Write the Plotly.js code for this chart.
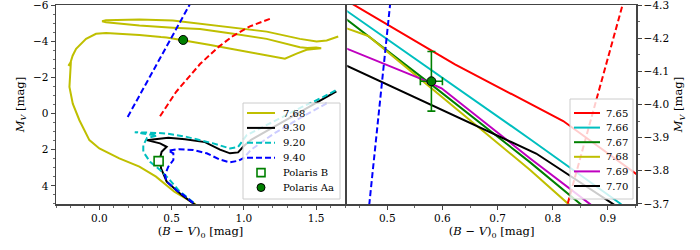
<!DOCTYPE html>
<html>
<head>
<meta charset="utf-8">
<script src="https://cdn.plot.ly/plotly-3.0.1.min.js"></script>
<style>html,body{margin:0;padding:0;background:#fff;}#chart{width:700px;height:250px;}</style>
</head>
<body>
<div id="chart"></div>
<script>
// ---------- data (B-V)_0 , M_V ----------
// isochrone log(age)=7.68
const iso768_bv = [0.696,0.662,0.519,0.392,0.277,0.138,0.000,-0.069,-0.138,-0.184,-0.207,-0.203,-0.196,-0.197,-0.214,-0.200,-0.185,-0.161,-0.092,-0.023,0.046,0.277,0.4264,0.4656,0.7585,0.828,0.925,1.158,1.284,1.365,1.434,1.500,1.535,1.500,1.440,1.388,1.158,0.927,0.696,0.508,0.277,0.046,0.019,0.046,0.277,0.508,0.738,0.927,1.158,1.388,1.503,1.573,1.653];
const iso768_mv = [5.33,5.00,4.32,3.49,2.94,2.48,1.93,1.47,0.37,-0.55,-1.47,-2.20,-2.66,-2.86,-2.64,-2.80,-3.20,-3.58,-4.13,-4.41,-4.46,-4.35,-4.23,-4.207,-3.803,-3.70,-3.58,-3.21,-3.03,-3.31,-3.53,-3.58,-3.61,-3.65,-3.63,-3.67,-4.13,-4.41,-4.68,-4.75,-4.87,-5.05,-5.10,-5.16,-5.20,-5.14,-4.92,-4.77,-4.53,-4.13,-3.98,-4.04,-4.26];
// isochrone 9.30
const iso930_bv = [0.696,0.663,0.570,0.466,0.427,0.420,0.431,0.466,0.420,0.328,0.385,0.477,0.593,0.731,0.835,0.904,0.960,1.000,1.050,1.200,1.400,1.550,1.640];
const iso930_mv = [5.27,5.05,4.50,3.77,3.03,2.48,2.12,1.84,1.65,1.47,1.42,1.34,1.42,1.58,2.00,2.20,2.15,1.80,1.45,0.77,-0.13,-0.81,-1.22];
// isochrone 9.20
const iso920_bv = [0.696,0.662,0.546,0.477,0.420,0.351,0.304,0.304,0.330,0.400,0.300,0.245,0.350,0.461,0.604,0.788,0.904,0.960,1.019,1.200,1.400,1.550,1.640];
const iso920_mv = [5.27,5.00,4.23,3.58,3.12,2.67,2.12,1.75,1.35,1.22,1.10,1.03,1.06,1.10,1.29,1.65,1.93,1.85,1.20,0.45,-0.35,-0.92,-1.30];
// isochrone 9.40
const iso940_bv = [0.696,0.662,0.581,0.546,0.466,0.454,0.477,0.512,0.512,0.477,0.550,0.650,0.743,0.835,0.904,0.961,1.000,1.050,1.200,1.400,1.590];
const iso940_mv = [5.27,5.02,4.50,4.32,3.77,3.40,2.94,2.57,2.20,2.05,1.97,2.02,2.20,2.55,2.70,2.61,2.45,2.00,1.15,0.20,-0.64];
// instability strip edges
const blueEdge_bv = [0.196,0.404,0.4675,0.505,0.630];
const blueEdge_mv = [0.19,-2.84,-3.70,-4.30,-6.10];
const redEdge_bv = [0.420,0.530,0.698,0.827,0.9265,1.042,1.190];
const redEdge_mv = [0.15,-1.19,-2.75,-3.70,-4.30,-4.82,-5.27];
// zoomed isochrones (right panel)
const iso765_bv = [0.42,0.6227,0.819,0.96];
const iso765_mv = [-4.32,-4.121,-3.95,-3.78];
const iso766_bv = [0.42,0.7585,0.9216,0.93];
const iso766_mv = [-4.29,-3.896,-3.702,-3.69];
const iso767_bv = [0.42,0.58,0.7585,0.850,0.86];
const iso767_mv = [-4.265,-4.06,-3.826,-3.70,-3.686];
const iso769_bv = [0.42,0.559,0.5985,0.7585,0.867,0.875];
const iso769_mv = [-4.173,-4.079,-4.049,-3.838,-3.70,-3.69];
const iso770_bv = [0.42,0.77,0.909,0.92];
const iso770_mv = [-4.122,-3.852,-3.70,-3.688];
// Polaris
const polarisAa_bv = [0.58], polarisAa_mv = [-4.07], polarisAa_ebv = [0.02], polarisAa_emv = [0.09];
const polarisB_bv = [0.41], polarisB_mv = [2.63];
// legend labels
const leftLabels = ['7.68','9.30','9.20','9.40','Polaris B','Polaris Aa'];
const rightLabels = ['7.65','7.66','7.67','7.68','7.69','7.70'];

// ---------- styling ----------
const C = {y:'rgb(191,191,0)', c:'rgb(0,191,191)', g:'rgb(0,128,0)', m:'rgb(191,0,191)', r:'rgb(255,0,0)', b:'rgb(0,0,255)', k:'rgb(0,0,0)'};
const FONT = 'DejaVu Serif';
const LW = 2;
const DASH = '6px,3px';

function line(x, y, color, name, opts) {
  opts = opts || {};
  return {
    type:'scatter', mode:'lines', x:x, y:y, name:name,
    line:{color:color, width:LW, dash: opts.dash || 'solid'},
    xaxis: opts.right ? 'x2' : 'x', yaxis: opts.right ? 'y2' : 'y',
    showlegend:false, hoverinfo:'skip'
  };
}
function aa(xa, ya, cap, th) {
  return {type:'scatter', mode:'markers', x:polarisAa_bv, y:polarisAa_mv, name:'Polaris Aa', xaxis:xa, yaxis:ya, showlegend:false,
   error_x:{type:'data', array:polarisAa_ebv, color:C.g, thickness:th, width:cap},
   error_y:{type:'data', array:polarisAa_emv, color:C.g, thickness:th, width:cap},
   marker:{symbol:'circle', size:9, color:C.g, line:{color:'#000', width:1}}, hoverinfo:'skip'};
}

const traces = [
  // left panel
  line(iso768_bv, iso768_mv, C.y, leftLabels[0]),
  line(iso930_bv, iso930_mv, C.k, leftLabels[1]),
  line(iso920_bv, iso920_mv, C.c, leftLabels[2], {dash:DASH}),
  line(iso940_bv, iso940_mv, C.b, leftLabels[3], {dash:DASH}),
  line(redEdge_bv, redEdge_mv, C.r, 'red edge', {dash:DASH}),
  line(blueEdge_bv, blueEdge_mv, C.b, 'blue edge', {dash:DASH}),
  {type:'scatter', mode:'markers', x:polarisB_bv, y:polarisB_mv, name:leftLabels[4], xaxis:'x', yaxis:'y', showlegend:false,
   marker:{symbol:'square', size:9, color:'white', line:{color:C.g, width:1.6}}, hoverinfo:'skip'},
  aa('x','y',2,1.5),
  // right panel
  line(iso765_bv, iso765_mv, C.r, rightLabels[0], {right:true}),
  line(iso766_bv, iso766_mv, C.c, rightLabels[1], {right:true}),
  line(iso767_bv, iso767_mv, C.g, rightLabels[2], {right:true}),
  line(iso768_bv, iso768_mv, C.y, rightLabels[3], {right:true}),
  line(iso769_bv, iso769_mv, C.m, rightLabels[4], {right:true}),
  line(iso770_bv, iso770_mv, C.k, rightLabels[5], {right:true}),
  line(blueEdge_bv, blueEdge_mv, C.b, 'blue edge', {right:true, dash:DASH}),
  line(redEdge_bv, redEdge_mv, C.r, 'red edge', {right:true, dash:DASH}),
  aa('x2','y2',4,1.6)
];

// ---------- custom legends (paper coords from pixel layout) ----------
const W = 700, TOP = 5, PH = 199;
const px = v => v / W;
const py = v => (TOP + PH - v) / PH;
const shapes = [], annotations = [];
function buildLegend(box, row0, step, sx0, sx1, tx, items) {
  shapes.push({type:'rect', xref:'paper', yref:'paper', x0:px(box[0]), x1:px(box[1]), y0:py(box[3]), y1:py(box[2]),
               fillcolor:'rgba(255,255,255,0.8)', line:{color:'#cccccc', width:1}, layer:'above'});
  items.forEach((it, i) => {
    const yc = row0 + i * step;
    if (it.kind === 'line') {
      shapes.push({type:'line', xref:'paper', yref:'paper', x0:px(sx0), x1:px(sx1), y0:py(yc), y1:py(yc),
                   line:{color:it.color, width:LW, dash:it.dash || 'solid'}, layer:'above'});
    } else {
      const cx = (sx0 + sx1) / 2, r = 4;
      shapes.push({type: it.kind === 'square' ? 'rect' : 'circle', xref:'paper', yref:'paper',
                   x0:px(cx - r), x1:px(cx + r), y0:py(yc + r), y1:py(yc - r),
                   fillcolor: it.kind === 'square' ? 'white' : C.g,
                   line:{color: it.kind === 'square' ? C.g : '#000', width: it.kind === 'square' ? 1.6 : 1}, layer:'above'});
    }
    annotations.push({xref:'paper', yref:'paper', x:px(tx), y:py(yc), xanchor:'left', yanchor:'middle',
                      text:it.label, showarrow:false, font:{family:FONT, size:10, color:'#000'}});
  });
}
buildLegend([243,340,103,199], 113, 14.9, 247, 275, 281, [
  {kind:'line', color:C.y, label:leftLabels[0]},
  {kind:'line', color:C.k, label:leftLabels[1]},
  {kind:'line', color:C.c, label:leftLabels[2], dash:DASH},
  {kind:'line', color:C.b, label:leftLabels[3], dash:DASH},
  {kind:'square', label:leftLabels[4]},
  {kind:'circle', label:leftLabels[5]}
]);
buildLegend([570,633,99,199], 113, 14.6, 574, 600, 604, [
  {kind:'line', color:C.r, label:rightLabels[0]},
  {kind:'line', color:C.c, label:rightLabels[1]},
  {kind:'line', color:C.g, label:rightLabels[2]},
  {kind:'line', color:C.y, label:rightLabels[3]},
  {kind:'line', color:C.m, label:rightLabels[4]},
  {kind:'line', color:C.k, label:rightLabels[5]}
]);

const axisCommon = {
  showline:true, linecolor:'#444', linewidth:1.5, mirror:true,
  ticks:'outside', ticklen:4, tickwidth:1, tickcolor:'#444',
  showgrid:false, zeroline:false, ticklabeloverflow:'allow',
  tickfont:{family:FONT, size:10.5, color:'#000'},
  minor:{ticks:'outside', ticklen:2, tickwidth:0.8, tickcolor:'#444', showgrid:false}
};
const xTitle = {text:'(<i>B</i> − <i>V</i>)<sub>0</sub> [mag]', font:{family:FONT, size:11.5, color:'#000'}, standoff:4};
const yTitle = {text:'<i>M</i><sub><i>V</i></sub> [mag]', font:{family:FONT, size:11.5, color:'#000'}, standoff:6};

const layout = {
  width:700, height:250,
  margin:{l:0, r:0, t:5, b:46},
  paper_bgcolor:'#fff', plot_bgcolor:'#fff',
  showlegend:false,
  xaxis: Object.assign({}, axisCommon, {domain:[0.08,0.4929], range:[-0.3,1.7], dtick:0.5, tick0:0, tickformat:'.1f', anchor:'y',
          minor:Object.assign({}, axisCommon.minor, {dtick:0.1}), title:xTitle}),
  yaxis: Object.assign({}, axisCommon, {domain:[0,1], range:[5.003,-6.003], dtick:2, tick0:0, anchor:'x',
          minor:Object.assign({}, axisCommon.minor, {dtick:0.5}), title:yTitle}),
  xaxis2: Object.assign({}, axisCommon, {domain:[0.4961,0.9086], range:[0.4275,0.951], dtick:0.1, tick0:0, tickformat:'.1f', anchor:'y2',
          minor:Object.assign({}, axisCommon.minor, {dtick:0.05}), title:xTitle}),
  yaxis2: Object.assign({}, axisCommon, {domain:[0,1], range:[-3.6996,-4.3004], dtick:0.1, tick0:0, tickformat:'.1f', anchor:'x2', side:'right',
          minor:Object.assign({}, axisCommon.minor, {dtick:0.05}), title:yTitle}),
  shapes: shapes,
  annotations: annotations
};

Plotly.newPlot('chart', traces, layout, {staticPlot:true, displayModeBar:false});
</script>
</body>
</html>
